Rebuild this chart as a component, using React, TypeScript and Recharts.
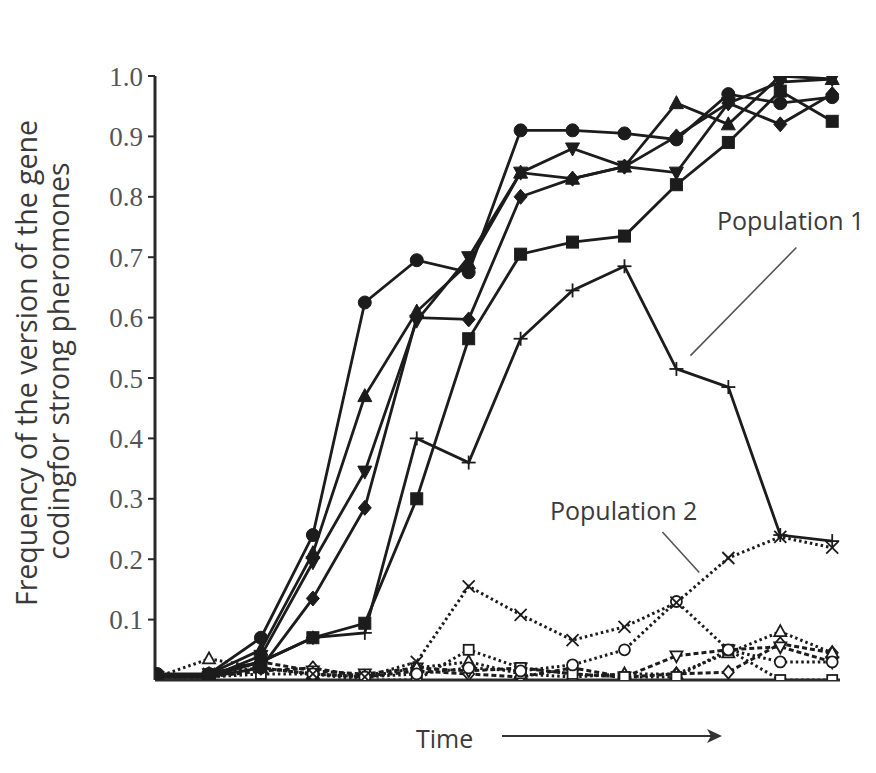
import React from 'react'
import {
  LineChart,
  Line,
  XAxis,
  YAxis,
  ReferenceLine,
} from 'recharts'

// time steps (no labels on the x axis, only the arrow)
const timeSteps = [0, 1, 2, 3, 4, 5, 6, 7, 8, 9, 10, 11, 12, 13]

// Population 1 (solid lines, filled markers)
const p1Circle = [0.01, 0.01, 0.07, 0.24, 0.625, 0.695, 0.675, 0.91, 0.91, 0.905, 0.895, 0.97, 0.955, 0.965]
const p1TriUp = [0.005, 0.01, 0.05, 0.21, 0.47, 0.61, 0.69, 0.84, 0.83, 0.85, 0.955, 0.92, 1.0, 0.995]
const p1TriDown = [0.005, 0.005, 0.04, 0.195, 0.345, 0.595, 0.7, 0.84, 0.88, 0.85, 0.84, 0.955, 0.99, 0.995]
const p1Diamond = [0.005, 0.005, 0.02, 0.135, 0.285, 0.6, 0.597, 0.8, 0.83, 0.85, 0.9, 0.955, 0.92, 0.97]
const p1Square = [0.005, 0.005, 0.03, 0.07, 0.094, 0.3, 0.565, 0.705, 0.725, 0.735, 0.82, 0.89, 0.975, 0.925]
const p1Plus = [0.005, 0.01, 0.03, 0.07, 0.078, 0.4, 0.36, 0.565, 0.645, 0.685, 0.515, 0.485, 0.24, 0.23]

// Population 2 (dotted lines, open markers)
const p2Cross = [0.005, 0.01, 0.02, 0.01, 0.005, 0.03, 0.155, 0.108, 0.066, 0.088, 0.128, 0.202, 0.237, 0.219]
const p2Circle = [0.005, 0.01, 0.02, 0.01, 0.005, 0.01, 0.02, 0.015, 0.025, 0.05, 0.13, 0.05, 0.03, 0.03]
const p2Square = [0.0, 0.005, 0.01, 0.01, 0.0, 0.0, 0.05, 0.02, 0.01, 0.005, 0.005, 0.05, 0.0, 0.0]
const p2TriUp = [0.005, 0.035, 0.02, 0.01, 0.005, 0.02, 0.03, 0.01, 0.005, 0.01, 0.01, 0.045, 0.08, 0.045]
const p2TriDown = [0.005, 0.01, 0.03, 0.015, 0.01, 0.02, 0.015, 0.02, 0.01, 0.005, 0.04, 0.05, 0.055, 0.03]
const p2Diamond = [0.005, 0.005, 0.015, 0.02, 0.005, 0.015, 0.01, 0.005, 0.02, 0.005, 0.01, 0.013, 0.06, 0.045]

const yTicks = [0.1, 0.2, 0.3, 0.4, 0.5, 0.6, 0.7, 0.8, 0.9, 1.0]

const data = timeSteps.map((t, i) => ({
  t,
  p1Circle: p1Circle[i],
  p1TriUp: p1TriUp[i],
  p1TriDown: p1TriDown[i],
  p1Diamond: p1Diamond[i],
  p1Square: p1Square[i],
  p1Plus: p1Plus[i],
  p2Cross: p2Cross[i],
  p2Circle: p2Circle[i],
  p2Square: p2Square[i],
  p2TriUp: p2TriUp[i],
  p2TriDown: p2TriDown[i],
  p2Diamond: p2Diamond[i],
}))

const INK = '#1c1c1c'
const TEXT = '#3a3a3a'

type Shape = 'circle' | 'triUp' | 'triDown' | 'diamond' | 'square' | 'plus' | 'cross'

const Marker = ({ cx, cy, shape, open }: { cx: number, cy: number, shape: Shape, open: boolean }) => {
  if (cx == null || cy == null) return null
  const fill = open ? '#fff' : INK
  const sw = open ? 1.8 : 1
  const s = open ? 5.5 : 6.5
  switch (shape) {
    case 'circle':
      return <circle cx={cx} cy={cy} r={s} fill={fill} stroke={INK} strokeWidth={sw} />
    case 'square':
      return <rect x={cx - s + 0.5} y={cy - s + 0.5} width={2 * s - 1} height={2 * s - 1} fill={fill} stroke={INK} strokeWidth={sw} />
    case 'triUp':
      return <polygon points={`${cx},${cy - s - 1} ${cx + s + 0.5},${cy + s - 1} ${cx - s - 0.5},${cy + s - 1}`} fill={fill} stroke={INK} strokeWidth={sw} />
    case 'triDown':
      return <polygon points={`${cx},${cy + s + 1} ${cx + s + 0.5},${cy - s + 1} ${cx - s - 0.5},${cy - s + 1}`} fill={fill} stroke={INK} strokeWidth={sw} />
    case 'diamond':
      return <polygon points={`${cx},${cy - s - 1} ${cx + s},${cy} ${cx},${cy + s + 1} ${cx - s},${cy}`} fill={fill} stroke={INK} strokeWidth={sw} />
    case 'plus':
      return (
        <g stroke={INK} strokeWidth={1.8}>
          <line x1={cx - 7} y1={cy} x2={cx + 7} y2={cy} />
          <line x1={cx} y1={cy - 7} x2={cx} y2={cy + 7} />
        </g>
      )
    case 'cross':
      return (
        <g stroke={INK} strokeWidth={1.8}>
          <line x1={cx - 6} y1={cy - 6} x2={cx + 6} y2={cy + 6} />
          <line x1={cx - 6} y1={cy + 6} x2={cx + 6} y2={cy - 6} />
        </g>
      )
  }
  return null
}

const dotFor = (shape: Shape, open: boolean) => (props: any) => (
  <Marker key={`${shape}-${open ? 'o' : 'f'}-${props.index}`} cx={props.cx} cy={props.cy} shape={shape} open={open} />
)

const solid = [
  { key: 'p1Plus', shape: 'plus' as Shape },
  { key: 'p1Square', shape: 'square' as Shape },
  { key: 'p1Diamond', shape: 'diamond' as Shape },
  { key: 'p1TriDown', shape: 'triDown' as Shape },
  { key: 'p1TriUp', shape: 'triUp' as Shape },
  { key: 'p1Circle', shape: 'circle' as Shape },
]

const dotted = [
  { key: 'p2Diamond', shape: 'diamond' as Shape, dash: '5 3' },
  { key: 'p2TriDown', shape: 'triDown' as Shape, dash: '5 3' },
  { key: 'p2TriUp', shape: 'triUp' as Shape, dash: '2.5 3' },
  { key: 'p2Square', shape: 'square' as Shape, dash: '2.5 3' },
  { key: 'p2Circle', shape: 'circle' as Shape, dash: '2.5 3' },
  { key: 'p2Cross', shape: 'cross' as Shape, dash: '2.5 3' },
]

export default function App() {
  return (
    <div style={{ position: 'relative', width: 860, height: 757 }}>
      <LineChart
        width={860}
        height={757}
        data={data}
        margin={{ top: 68, right: 28, bottom: 65, left: 0 }}
      >
        <XAxis
          type='number'
          dataKey='t'
          domain={[-0.04, 13.15]}
          tick={false}
          tickLine={false}
          axisLine={{ stroke: '#2a2a2a', strokeWidth: 3 }}
          height={20}
          allowDataOverflow
        />
        <YAxis
          type='number'
          domain={[0, 1]}
          ticks={yTicks}
          width={147}
          tickSize={7}
          tickMargin={5}
          tickLine={{ stroke: '#2a2a2a', strokeWidth: 2 }}
          axisLine={{ stroke: '#2a2a2a', strokeWidth: 3 }}
          tick={{ fill: '#555', fontSize: 27, fontFamily: '"Liberation Serif", "DejaVu Serif", serif' }}
          tickFormatter={(v: number) => v.toFixed(1)}
          allowDataOverflow
        />
        {dotted.map((s) => (
          <Line
            key={s.key}
            dataKey={s.key}
            stroke={INK}
            strokeWidth={3}
            strokeDasharray={s.dash}
            dot={dotFor(s.shape, true)}
            activeDot={false}
            isAnimationActive={false}
          />
        ))}
        {solid.map((s) => (
          <Line
            key={s.key}
            dataKey={s.key}
            stroke={INK}
            strokeWidth={2.8}
            dot={dotFor(s.shape, false)}
            activeDot={false}
            isAnimationActive={false}
          />
        ))}
        <ReferenceLine
          segment={[{ x: 12.31, y: 0.716 }, { x: 10.27, y: 0.537 }]}
          stroke='#555'
          strokeWidth={1.6}
        />
        <ReferenceLine
          segment={[{ x: 9.73, y: 0.245 }, { x: 10.44, y: 0.178 }]}
          stroke='#555'
          strokeWidth={1.6}
        />
      </LineChart>
      <svg
        width={860}
        height={757}
        style={{ position: 'absolute', left: 0, top: 0, pointerEvents: 'none' }}
      >
        <g fontFamily='"Open Sans", "Noto Sans", sans-serif' fill={TEXT}>
          <text transform='translate(18, 355) rotate(-90)' textAnchor='middle' dominantBaseline='central' fontSize={28.5}>
            Frequency of the version of the gene
          </text>
          <text transform='translate(50, 353) rotate(-90)' textAnchor='middle' dominantBaseline='central' fontSize={28.5}>
            codingfor strong pheromones
          </text>
          <text x={709} y={222} fontSize={25}>Population 1</text>
          <text x={542} y={512} fontSize={25}>Population 2</text>
          <text x={408} y={740} fontSize={25}>Time</text>
        </g>
        <line x1={494} y1={728} x2={704} y2={728} stroke='#333' strokeWidth={2} />
        <polygon points='714,728 699,721 703,728 699,735' fill='#333' />
      </svg>
    </div>
  )
}
